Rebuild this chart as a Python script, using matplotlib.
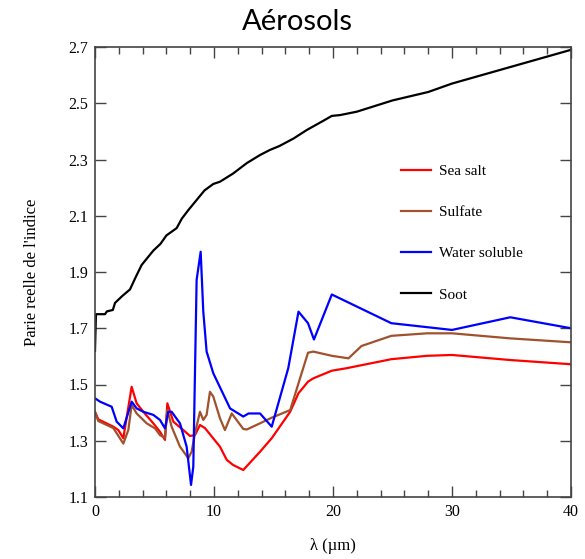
import numpy as np
import matplotlib
matplotlib.use("Agg")
import matplotlib.pyplot as plt
from matplotlib.ticker import MultipleLocator

# valeurs (lambda en um, partie reelle de l'indice)
soot_x = [0.0, 0.08, 0.3, 0.84, 1.0, 1.5, 1.68, 2.3, 2.94, 3.4, 3.92, 4.4, 4.9, 5.5,
          6.0, 6.86, 7.3, 7.84, 8.54, 9.2, 9.94, 10.5, 11.6, 12.75, 13.87, 14.7, 15.5,
          16.7, 17.8, 19.2, 19.9, 20.6, 22.0, 25.0, 28.0, 30.0, 35.0, 40.0]
soot_y = [1.62, 1.75, 1.75, 1.75, 1.76, 1.765, 1.79, 1.815, 1.838, 1.88, 1.925, 1.95,
          1.976, 2.0, 2.03, 2.056, 2.09, 2.12, 2.156, 2.19, 2.213, 2.221, 2.25, 2.287,
          2.316, 2.334, 2.348, 2.375, 2.405, 2.438, 2.455, 2.458, 2.47, 2.51, 2.54,
          2.57, 2.63, 2.69]

seasalt_x = [0.0, 0.28, 1.54, 1.96, 2.38, 3.08, 3.5, 4.06, 4.9, 5.46, 5.88, 6.08, 6.58,
             7.42, 7.98, 8.4, 8.82, 9.24, 10.5, 11.07, 11.6, 12.46, 13.87, 14.85, 16.4,
             17.1, 17.9, 18.35, 19.9, 21.15, 24.9, 27.9, 30.0, 34.9, 40.0]
seasalt_y = [1.403, 1.376, 1.35, 1.338, 1.309, 1.492, 1.433, 1.403, 1.362, 1.332, 1.303,
             1.433, 1.368, 1.338, 1.317, 1.32, 1.356, 1.345, 1.279, 1.232, 1.214, 1.196,
             1.261, 1.309, 1.403, 1.469, 1.51, 1.522, 1.549, 1.558, 1.59, 1.602, 1.605,
             1.587, 1.572]

sulfate_x = [0.0, 0.28, 1.54, 2.38, 2.8, 3.08, 3.5, 4.34, 5.04, 5.46, 5.88, 6.08, 6.44,
             7.14, 7.84, 8.12, 8.4, 8.82, 9.1, 9.38, 9.66, 9.94, 10.5, 10.92, 11.49,
             12.46, 12.75, 13.87, 14.85, 16.4, 17.9, 18.35, 19.9, 21.3, 22.4, 24.9,
             27.9, 30.0, 34.9, 40.0]
sulfate_y = [1.40, 1.37, 1.345, 1.29, 1.338, 1.427, 1.397, 1.362, 1.344, 1.32, 1.31,
             1.409, 1.35, 1.279, 1.238, 1.261, 1.326, 1.403, 1.374, 1.392, 1.474, 1.457,
             1.38, 1.338, 1.397, 1.342, 1.34, 1.362, 1.382, 1.409, 1.613, 1.617, 1.602,
             1.593, 1.637, 1.673, 1.682, 1.682, 1.664, 1.65]

water_x = [0.0, 0.42, 1.4, 1.82, 2.38, 3.08, 3.5, 4.06, 4.9, 5.46, 5.88, 6.16, 6.44,
           7.14, 7.7, 8.07, 8.26, 8.54, 8.88, 9.1, 9.38, 9.94, 11.35, 12.46, 12.9,
           13.87, 14.85, 16.24, 17.1, 17.9, 18.4, 19.9, 24.9, 30.0, 34.9, 40.0]
water_y = [1.451, 1.439, 1.421, 1.368, 1.344, 1.439, 1.415, 1.403, 1.392, 1.374, 1.344,
           1.403, 1.403, 1.362, 1.279, 1.143, 1.208, 1.872, 1.972, 1.759, 1.617, 1.54,
           1.415, 1.386, 1.397, 1.397, 1.35, 1.558, 1.759, 1.718, 1.66, 1.82, 1.718,
           1.694, 1.739, 1.70]

plt.rcParams['font.family'] = ['Liberation Serif', 'DejaVu Serif']

fig = plt.figure(figsize=(5.85, 5.59), dpi=100)
ax = fig.add_axes([95 / 585, 1 - 497 / 559, 476 / 585, 450 / 559])

lw = 1.6
ax.plot(seasalt_x, seasalt_y, color="#ff0000", lw=lw, label="Sea salt")
ax.plot(sulfate_x, sulfate_y, color="#a0522d", lw=lw, label="Sulfate")
ax.plot(water_x, water_y, color="#0000ff", lw=lw, label="Water soluble")
ax.plot(soot_x, soot_y, color="black", lw=lw, label="Soot")

ax.set_xlim(0, 40)
ax.set_ylim(1.1, 2.7)
ax.xaxis.set_major_locator(MultipleLocator(10))
ax.xaxis.set_minor_locator(MultipleLocator(2))
yt = np.arange(1.1, 2.71, 0.2)
ax.set_yticks(yt)
ax.set_yticklabels([f"{v:.1f}" for v in yt])

ax.tick_params(which="both", direction="in", top=True, right=True, labelsize=11.5,
               color="#444444", width=1.0)
ax.tick_params(which="major", length=8, pad=5)
ax.tick_params(which="minor", length=5)
for s in ax.spines.values():
    s.set_color("#444444")
    s.set_linewidth(1.2)

ax.set_xlabel("λ (µm)", fontsize=12, labelpad=13)
ax.set_ylabel("Parie reelle de l'indice", fontsize=12, labelpad=20)
fig.text(297 / 585, 1 - 22 / 559, "Aérosols", ha="center", va="center",
         fontsize=21, family=["Lato", "DejaVu Sans"])

leg = ax.legend(loc="upper left", bbox_to_anchor=(0.615, 0.77), frameon=False,
                fontsize=11, labelspacing=1.8, handlelength=1.9, handletextpad=0.55)

fig.savefig("out.png", dpi=100)
